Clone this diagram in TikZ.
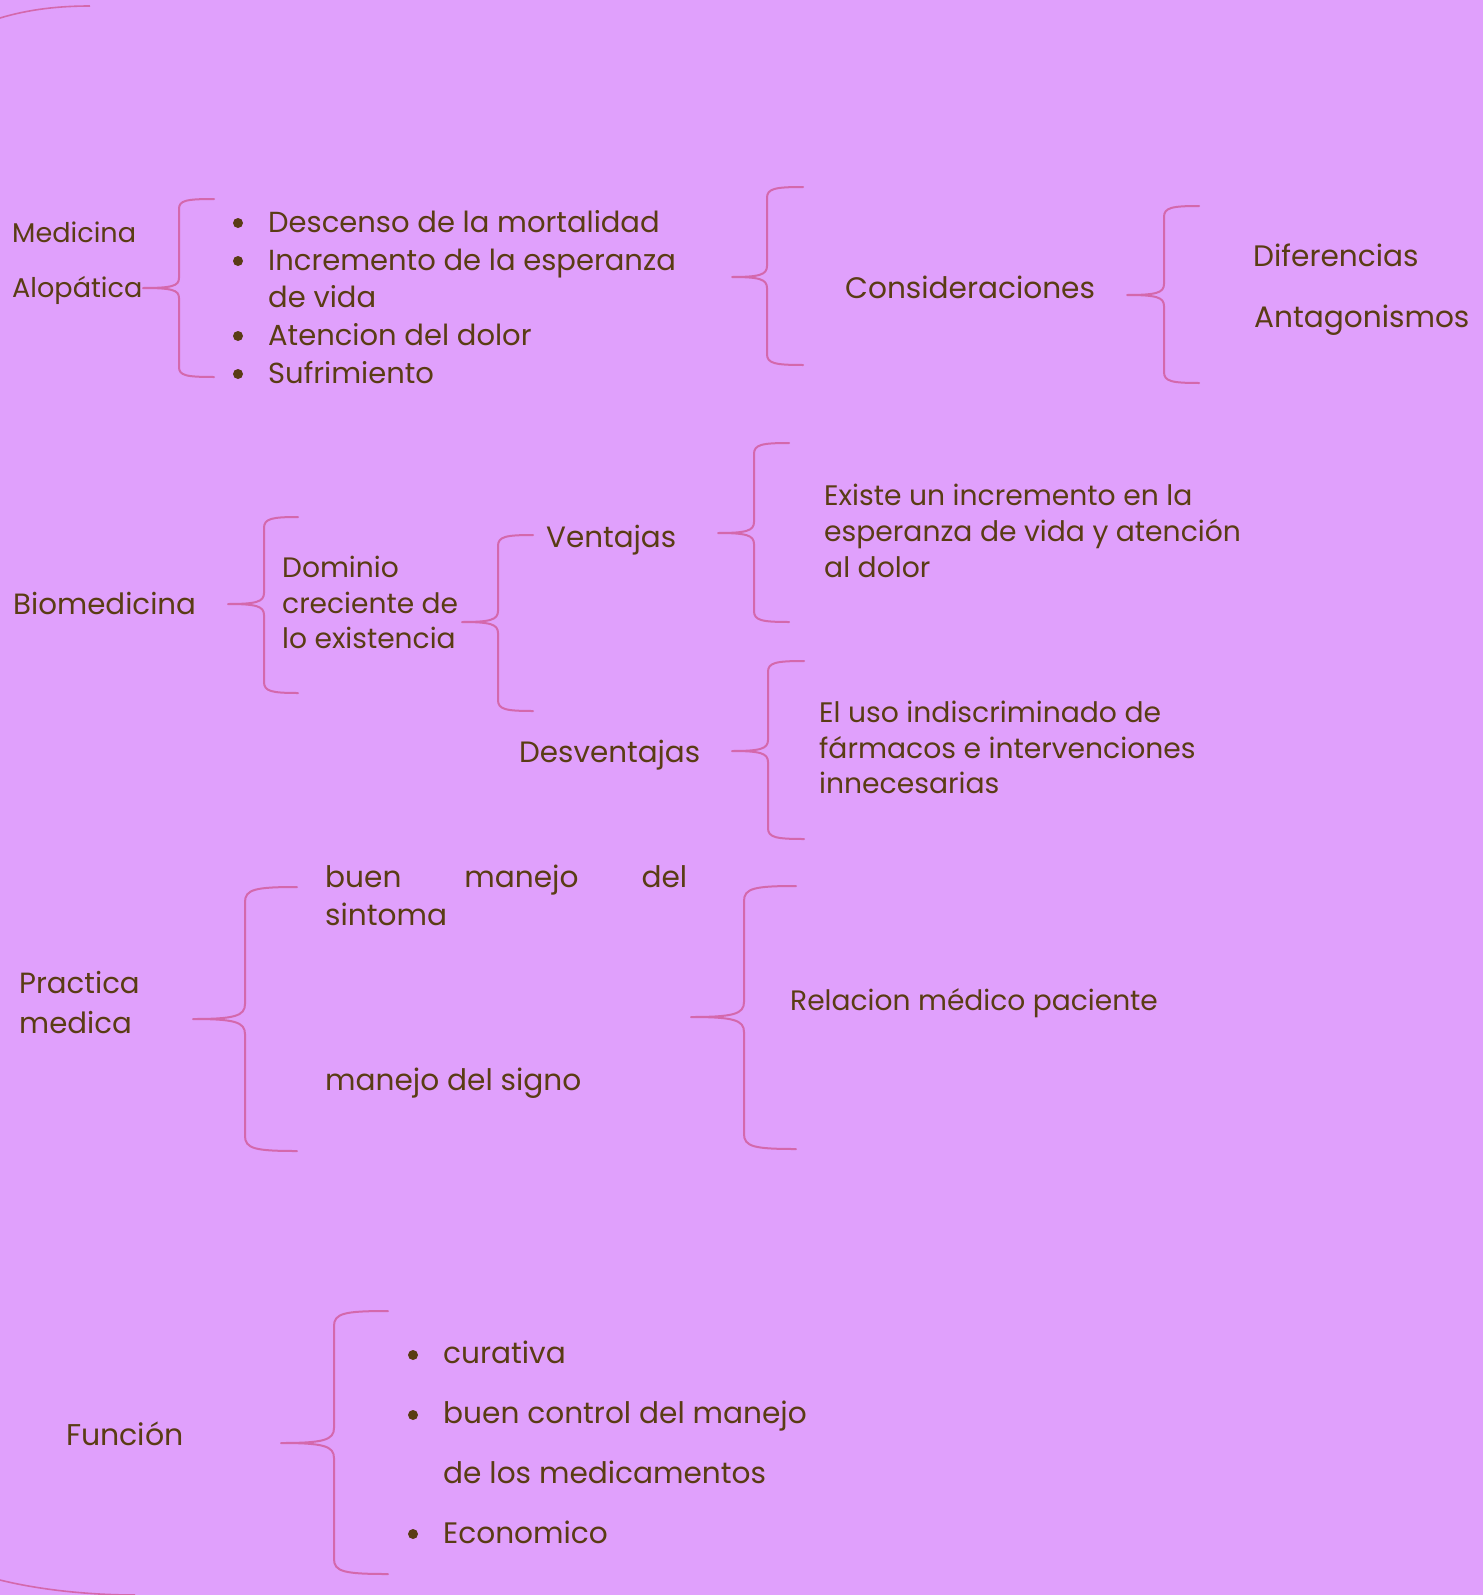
\documentclass[tikz,border=0pt]{standalone}
\usepackage{fontspec}
\setmainfont{Poppins}
\definecolor{bg}{HTML}{E0A0FC}
\definecolor{ink}{HTML}{5A3C14}
\definecolor{brc}{HTML}{D468AC}
% #1 X (vertical line), #2 top y, #3 bottom y, #4 end x, #5 tip x, #6 tip y, #7 curve size
\newcommand\mybrace[7]{%
  \draw[braceline] (#4,#2) .. controls (#1+#7*0.7,#2) and (#1,#2+#7*0.15) .. (#1,#2+#7)
    -- (#1,#6-#7) .. controls (#1,#6-#7*0.2) and (#1-#7*0.7,#6) .. (#5,#6)
    .. controls (#1-#7*0.7,#6) and (#1,#6+#7*0.2) .. (#1,#6+#7)
    -- (#1,#3-#7) .. controls (#1,#3-#7*0.15) and (#1+#7*0.7,#3) .. (#4,#3);}
\tikzset{
  braceline/.style={draw=brc, line width=2pt, line cap=round, line join=round},
  edgeline/.style={draw=brc, line width=1.6pt},
  lbl/.style={text=ink, inner sep=0pt, anchor=base west, font=\fontsize{#1}{#1}\selectfont},
  bul/.style={circle, fill=ink, inner sep=0pt, minimum size=10pt},
}
\begin{document}
\begin{tikzpicture}[x=1pt,y=-1pt]
\fill[bg] (0,0) rectangle (1483,1595);
\useasboundingbox (0,0) rectangle (1483,1595);
% page edge arcs
\draw[edgeline] (0,18) .. controls (30,9) and (60,6) .. (90,6);
\draw[edgeline] (0,1580) .. controls (40,1590) and (90,1595) .. (135,1595);

% ---- Medicina Alopatica
\node[lbl=27.1] (med) at (12,242) {Medicina};
\node[lbl=27.1] (alo) at (12,297) {Alopática};
\mybrace{179}{199}{377}{214}{143}{288}{10}
\node[bul] (b1) at (238,223) {};
\node[bul] (b2) at (238,261) {};
\node[bul] (b3) at (238,336) {};
\node[bul] (b4) at (238,374) {};
\node[lbl=29] (desc) at (268,232) {Descenso de la mortalidad};
\node[lbl=29] (incr) at (268,270) {Incremento de la esperanza};
\node[lbl=29] (vida) at (268,307) {de vida};
\node[lbl=29] (aten) at (268,345) {Atencion del dolor};
\node[lbl=29] (sufr) at (268,383) {Sufrimiento};
\mybrace{767}{187}{365}{803}{732}{277}{11}
\node[lbl=29.6] (cons) at (845,298) {Consideraciones};
\mybrace{1164}{206}{383}{1199}{1127}{295}{11}
\node[lbl=29.6] (dif) at (1253,266) {Diferencias};
\node[lbl=29.6] (ant) at (1254,327) {Antagonismos};

% ---- Biomedicina
\node[lbl=29.3] (bio) at (13,614) {Biomedicina};
\mybrace{264}{517}{693}{298}{228}{604}{11}
\node[lbl=28.1] (dom1) at (282,577) {Dominio};
\node[lbl=28.1] (dom2) at (282,613) {creciente de};
\node[lbl=28.1] (dom3) at (282,648) {lo existencia};
\mybrace{498}{535}{711}{533}{462}{622}{11}
\node[lbl=29.4] (ven) at (546,547) {Ventajas};
\node[lbl=29.4] (des) at (519,762) {Desventajas};
\mybrace{754}{443}{622}{789}{718}{533}{11}
\node[lbl=28.2] (ex1) at (824,505) {Existe un incremento en la};
\node[lbl=28.2] (ex2) at (824,541) {esperanza de vida y atención};
\node[lbl=28.2] (ex3) at (824,577) {al dolor};
\mybrace{768}{661}{839}{804}{732}{751}{11}
\node[lbl=28.2] (el1) at (819,722) {El uso indiscriminado de};
\node[lbl=28.2] (el2) at (819,758) {fármacos e intervenciones};
\node[lbl=28.2] (el3) at (819,793) {innecesarias};

% ---- Practica medica
\node[lbl=29.2] (pra1) at (19,993) {Practica};
\node[lbl=29.2] (pra2) at (19,1033) {medica};
\mybrace{245}{887}{1151}{297}{193}{1019}{15}
\node[lbl=29.6] (bm1) at (325,887) {\makebox[362pt][s]{buen manejo del}};
\node[lbl=29.6] (bm2) at (325,925) {sintoma};
\node[lbl=29.6] (sig) at (325,1090) {manejo del signo};
\mybrace{744}{886}{1149}{796}{691}{1017}{15}
\node[lbl=28.1] (rel) at (790,1010) {Relacion médico paciente};

% ---- Funcion
\node[lbl=30] (fun) at (66,1445) {Función};
\mybrace{334}{1311}{1574}{388}{281}{1443}{15}
\node[bul] (c1) at (413,1355) {};
\node[bul] (c2) at (413,1415) {};
\node[bul] (c3) at (413,1534) {};
\node[lbl=29.6] (cur) at (443,1363) {curativa};
\node[lbl=29.6] (bc1) at (443,1423) {buen control del manejo};
\node[lbl=29.6] (bc2) at (443,1483) {de los medicamentos};
\node[lbl=29.6] (eco) at (443,1543) {Economico};
\end{tikzpicture}
\end{document}
